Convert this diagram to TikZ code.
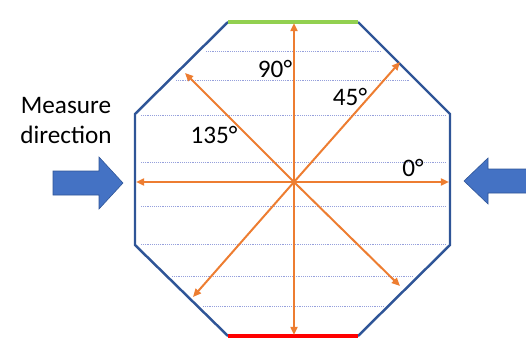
\documentclass[tikz,border=0pt]{standalone}
\usepackage{fontspec}
\setmainfont{Carlito}
\usetikzlibrary{arrows.meta}
\definecolor{octblue}{RGB}{47,85,151}
\definecolor{fillblue}{RGB}{68,114,196}
\definecolor{rayorange}{RGB}{237,125,49}
\definecolor{gridblue}{RGB}{150,160,220}
\definecolor{topgreen}{RGB}{146,208,80}
\definecolor{botred}{RGB}{255,0,0}

\begin{document}
\begin{tikzpicture}[
  x=0.03cm, y=-0.03cm,
  every node/.style={font=\fontsize{21.5}{26}\selectfont, inner sep=0pt},
  octline/.style={draw=octblue, line width=2.1pt, line join=miter},
  ray/.style={draw=rayorange, line width=1.7pt, -{Triangle[length=7pt, width=6pt]}},
  gridline/.style={draw=gridblue, line width=0.7pt, dash pattern=on 0.8pt off 0.8pt},
  bigarrow/.style={fill=fillblue, draw=octblue, line width=0.5pt}
]
\useasboundingbox (0,0) rectangle (526,338);

% guide lines inside the octagon
\foreach \y/\xa/\xb in {51/206/381, 80/176/410, 115/141/446, 162/141/446,
  206/141/446, 244/141/446, 276/172/413, 306/203/383}
  \draw[gridline] (\xa,\y) -- (\xb,\y);

% octagon
\draw[octline] (358,22) -- (450,114) -- (450,245) -- (358,336)
  (228,336) -- (135,245) -- (135,114) -- (228,22);
\draw[draw=topgreen, line width=4pt] (228,22) -- (358,22);
\draw[draw=botred, line width=4pt] (228,336) -- (358,336);

% rays
\coordinate (c) at (294,182);
\coordinate (e0) at (449,182);
\coordinate (e45) at (400,62);
\coordinate (e90) at (294,23);
\coordinate (e135) at (185,73);
\coordinate (e180) at (136,182);
\coordinate (e225) at (193,297);
\coordinate (e270) at (294,335);
\coordinate (e315) at (400,286);
\foreach \e in {e0,e45,e90,e135,e180,e225,e270,e315}
  \draw[ray] (c) -- (\e);

% angle labels
\node[anchor=base] (l90) at (275,78) {90°};
\node[anchor=base] (l45) at (350,106) {45°};
\node[anchor=base] (l135) at (214,143) {135°};
\node[anchor=base] (l0) at (413,176) {0°};

% measure direction
\node[anchor=base] (md1) at (66,113) {Measure};
\node[anchor=base] (md2) at (66,143) {direction};
\draw[bigarrow] (53,171) -- (99,171) -- (99,157) -- (123,183)
  -- (99,209) -- (99,195) -- (53,195) -- cycle;
\draw[bigarrow] (527,169) -- (488,169) -- (488,158) -- (464,181)
  -- (488,204) -- (488,193) -- (527,193);
\end{tikzpicture}
\end{document}
